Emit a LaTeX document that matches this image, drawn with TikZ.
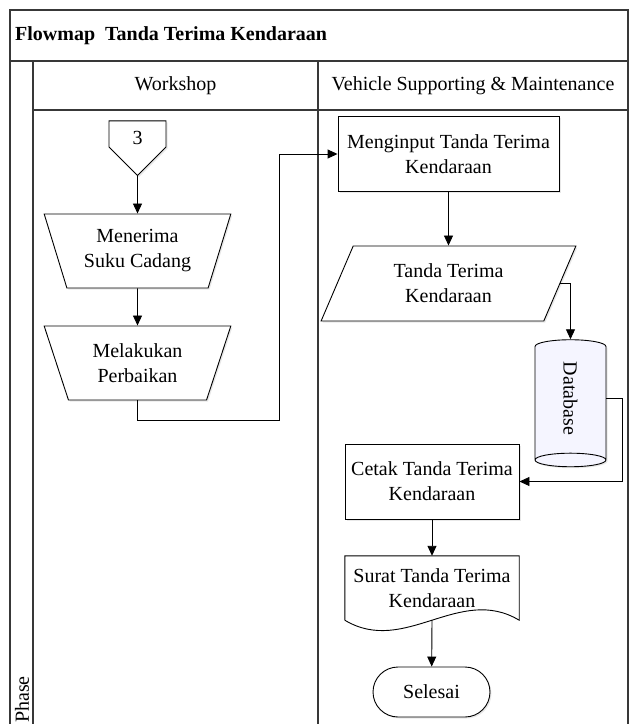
\documentclass[tikz,border=0pt]{standalone}
\usepackage{fontspec}
\setmainfont{Liberation Serif}
\usetikzlibrary{arrows.meta,shapes.geometric,shapes.symbols,shadows}

\tikzset{
    lane/.style={line width=1.4pt, draw=black!78},
    box/.style={draw, fill=white, line width=0.9pt, align=center, inner sep=2pt,
        drop shadow={shadow xshift=1.5pt, shadow yshift=-1.5pt, opacity=0.18}},
    manual/.style={box, trapezium, trapezium stretches=true, shape border rotate=180,
        trapezium left angle=69, trapezium right angle=69,
        minimum width=187pt, minimum height=74pt},
    inout/.style={box, trapezium, trapezium stretches=true,
        trapezium left angle=66, trapezium right angle=114,
        minimum width=255pt, minimum height=75pt},
    offpage/.style={box, signal, signal to=south, signal from=nowhere,
        minimum width=57pt, minimum height=31pt},
    process/.style={box, minimum width=#1, minimum height=75pt},
    store/.style={box, cylinder, rotate=-90, aspect=0.75,
        minimum width=71pt, minimum height=127pt, fill=blue!4},
    terminal/.style={box, rounded corners=25pt, minimum width=117pt, minimum height=50pt},
    flow/.style={line width=0.9pt, -{Triangle[length=10pt,width=9pt]}},
}

\begin{document}
\begin{tikzpicture}[x=1pt, y=-1pt, font=\fontsize{20pt}{25pt}\selectfont]
    \useasboundingbox (0,0) rectangle (629,724);

    % swimlane frame
    \draw[lane] (10,724) -- (10,10) -- (628,10) -- (628,724);
    \draw[lane] (10,61) -- (628,61);
    \draw[lane] (33,61) -- (33,724);
    \draw[lane] (33,110) -- (628,110);
    \draw[lane] (318,61) -- (318,724);

    \node[anchor=west, inner sep=0, font=\fontsize{20pt}{25pt}\selectfont\bfseries] (title) at (15,36) {Flowmap\ \ Tanda Terima Kendaraan};
    \node (workshop) at (175.5,86) {Workshop};
    \node (vsm) at (473,86) {Vehicle Supporting \& Maintenance};
    \node[rotate=90, anchor=east, inner sep=0] (phase) at (22,676) {Phase};

    % workshop lane
    \node[offpage] (p3) at (137.5,134) {\rule{0pt}{22pt}3};
    \node[manual] (terima) at (137.5,251) {Menerima\\Suku Cadang};
    \node[manual] (perbaikan) at (137.5,363) {Melakukan\\Perbaikan};
    \coordinate (turn) at (279,420);

    % vehicle supporting & maintenance lane
    \node[process=221pt] (input) at (448.5,154) {Menginput Tanda Terima\\Kendaraan};
    \node[inout] (ttk) at (448.5,283.5) {Tanda Terima\\Kendaraan};
    \node[store] (db) at (570.5,398.5) {Database};
    \node[process=174pt] (cetak) at (432,481.5) {Cetak Tanda Terima\\Kendaraan};
    \node[align=center, minimum width=174pt, minimum height=64pt, inner sep=0] (surat) at (432,588) {Surat Tanda Terima\\Kendaraan};
    \draw[line width=0.9pt] (surat.south west) -- (surat.north west) -- (surat.north east) -- (surat.south east)
        .. controls +(-60,-36) and +(60,36) .. (surat.south west);
    \node[terminal] (selesai) at (431.5,692) {Selesai};

    \draw[flow] (p3) -- (terima);
    \draw[flow] (terima) -- (perbaikan);
    \draw[flow] (perbaikan.south) |- (turn) |- (input.west);
    \draw[flow] (input) -- (ttk);
    \draw[flow] (ttk.east) -| (db.west);
    \draw[flow] (db.north) -- ++(16,0) |- (cetak.east);
    \draw[flow] (cetak) -- (surat);
    \draw[flow] (surat.south) -- (selesai);
\end{tikzpicture}
\end{document}
